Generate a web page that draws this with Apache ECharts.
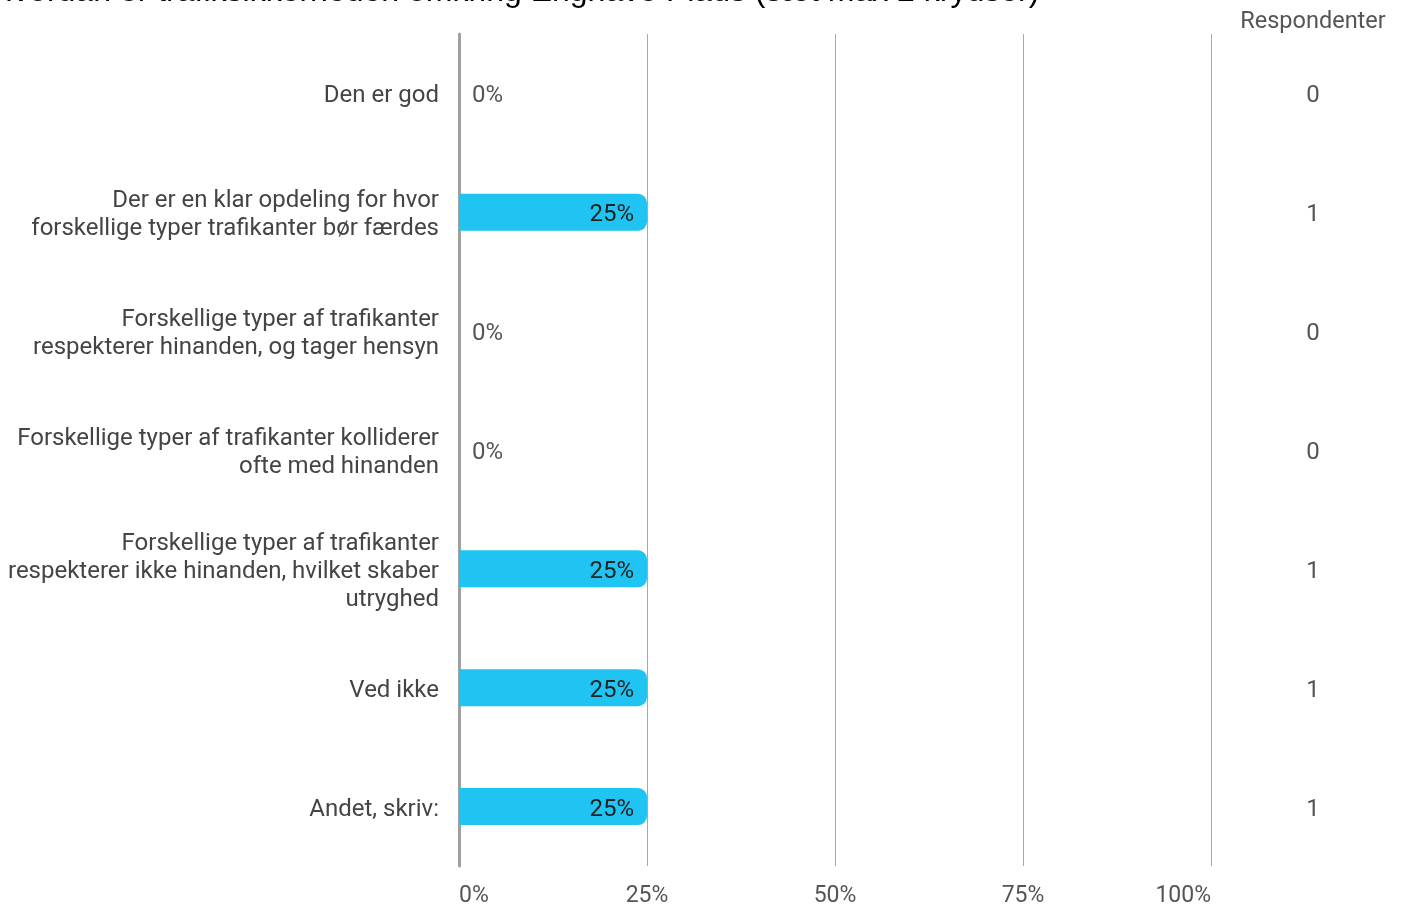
<!DOCTYPE html>
<html><head><meta charset="utf-8">
<script src="https://cdn.jsdelivr.net/npm/echarts@6/dist/echarts.min.js"></script>
<style>html,body{margin:0;padding:0;background:#fff}#c{width:1405px;height:904px}</style>
</head><body><div id="c"></div>
<script>
const titleText = 'Hvordan er trafiksikkerheden omkring Enghave Plads (sæt max 2 krydser)';
const categories = [
  'Den er god',
  'Der er en klar opdeling for hvor\nforskellige typer trafikanter bør færdes',
  'Forskellige typer af trafikanter\nrespekterer hinanden, og tager hensyn',
  'Forskellige typer af trafikanter kolliderer\nofte med hinanden',
  'Forskellige typer af trafikanter\nrespekterer ikke hinanden, hvilket skaber\nutryghed',
  'Ved ikke',
  'Andet, skriv:'
];
const percentages = [0, 25, 0, 0, 25, 25, 25];
const respondents = [0, 1, 0, 0, 1, 1, 1];
const respHeader = 'Respondenter';

const FONT = 'Roboto';
const chart = echarts.init(document.getElementById('c'));
const barData = percentages.map(v => v === 0 ? {
  value: v,
  label: { position: 'right', distance: 13, color: '#555' }
} : { value: v });

// a thin empty first line nudges the centred text block down by ~3px
const shifted = s => '{s| }\n' + s;
const spacer = { s: { fontSize: 1, lineHeight: 6 } };

chart.setOption({
  animation: false,
  graphic: [
    { type: 'text', left: -10, top: -24, style: { text: titleText, font: '32px "Liberation Sans", Arial, sans-serif', fill: '#000' } },
    { type: 'text', x: 1313, y: 22, style: { text: respHeader, font: '23.5px Roboto', fill: '#555', align: 'center', verticalAlign: 'middle' } }
  ],
  grid: { left: 459, right: 194, top: 34, bottom: 38, containLabel: false, outerBoundsMode: 'none' },
  xAxis: {
    type: 'value', min: 0, max: 100, interval: 25,
    axisLine: { show: false }, axisTick: { show: false },
    splitLine: { lineStyle: { color: '#a8a8a8', width: 1 } },
    axisLabel: { formatter: v => v + '%', fontFamily: FONT, fontSize: 23, color: '#555', margin: 19,
      alignMinLabel: 'left', alignMaxLabel: 'right' }
  },
  yAxis: [{
    type: 'category', data: categories, inverse: true,
    axisLine: { show: true, lineStyle: { color: '#a0a0a0', width: 3 } },
    axisTick: { show: false },
    axisLabel: { fontFamily: FONT, fontSize: 24, color: '#444', margin: 20, lineHeight: 28, align: 'right',
      formatter: shifted, rich: spacer }
  }, {
    type: 'category', data: respondents.map(String), inverse: true, position: 'right',
    axisLine: { show: false }, axisTick: { show: false },
    axisLabel: { fontFamily: FONT, fontSize: 24, color: '#555', margin: 102, lineHeight: 28, align: 'center',
      formatter: shifted, rich: spacer }
  }],
  series: [{
    type: 'bar', data: barData, barWidth: 37, yAxisIndex: 0,
    itemStyle: { color: '#1fc4f3', borderRadius: [0, 9, 9, 0] },
    label: { show: true, position: 'insideRight', distance: 13, offset: [0, 3], formatter: p => p.value + '%',
      fontFamily: FONT, fontSize: 24, color: '#222' }
  }]
});
</script></body></html>
